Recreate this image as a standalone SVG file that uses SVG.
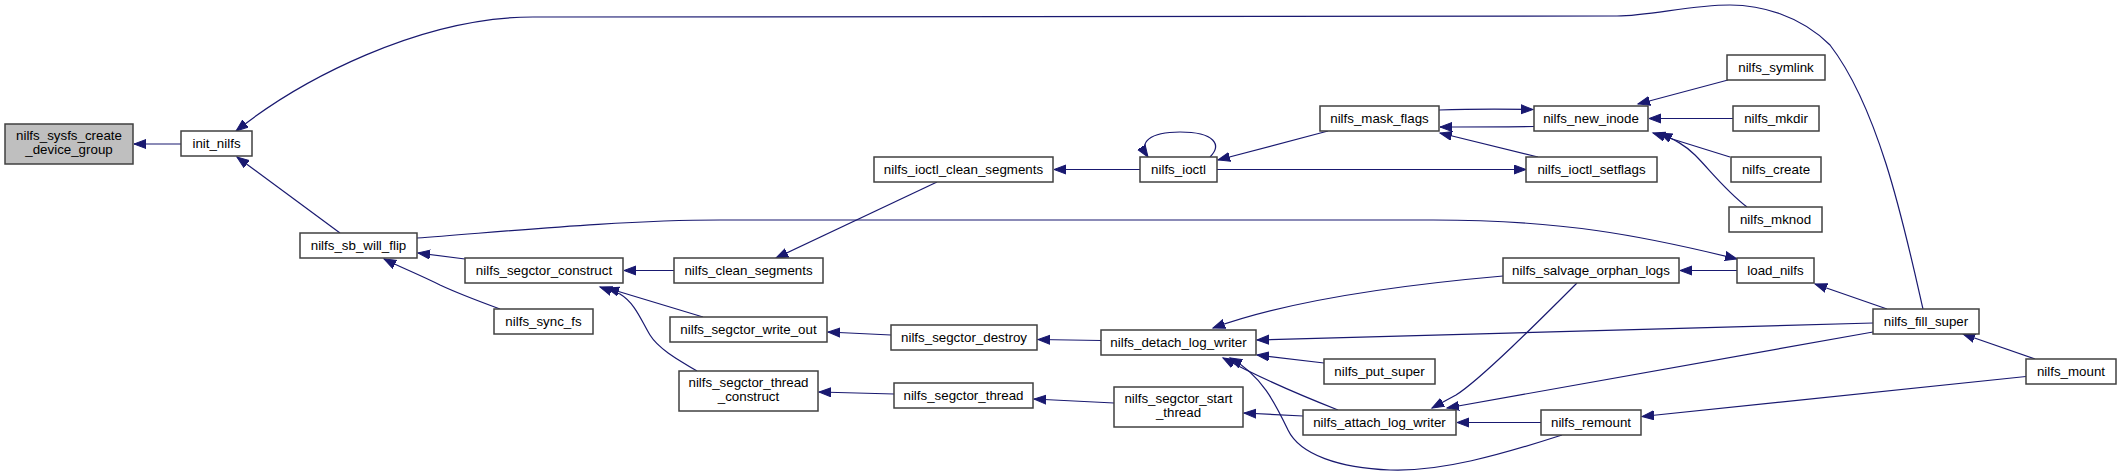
<svg xmlns="http://www.w3.org/2000/svg" width="2121" height="476" viewBox="0 0 2121 476">
<style>
.n rect{fill:#ffffff;stroke:#404040;stroke-width:1.5}
.n.root rect{fill:#bfbfbf}
.n text{font-family:"Liberation Sans",Arial,sans-serif;font-size:13.33px;fill:#000;text-anchor:middle}
.e path{fill:none;stroke:#191970;stroke-width:1.2;marker-end:url(#a)}
</style>
<defs>
<marker id="a" markerWidth="14" markerHeight="12" refX="12" refY="5" orient="auto" markerUnits="userSpaceOnUse">
<path d="M0,0.5 L12,5 L0,9.5 z" fill="#191970" stroke="#191970" stroke-width="1"/>
</marker>
</defs>
<rect width="2121" height="476" fill="#ffffff"/>
<g id="edges" class="e">
<path d="M181,144 L134,144"/>
<path d="M1923,309 C1905,230 1880,110 1830,45 C1800,15 1760,5 1730,5 C1690,5 1650,16 1617,16 L533,17 C420,17 300,80 236,131"/>
<path d="M340,233 L237,157"/>
<path d="M465,259 L418,253"/>
<path d="M500,309 C470,298 455,292 440,285 C420,275 400,267 384,259"/>
<path d="M417,238 C500,232 620,220 720,220 L1433,220 C1560,220 1640,235 1737,259"/>
<path d="M1140,169.5 L1054,169.5"/>
<path d="M1210,157 C1222,145 1215,132 1180,132 C1150,132 1138,142 1148,157"/>
<path d="M1328,131 L1218,160"/>
<path d="M1217,169.5 L1526,169.5"/>
<path d="M937,182 L776,258"/>
<path d="M674,270.5 L624,270.5"/>
<path d="M703,317 L607,288"/>
<path d="M697,371 C675,358 658,348 650,335 C641,320 635,303 620,294 L600,287"/>
<path d="M891,335 L828,332"/>
<path d="M894,394 L819,392"/>
<path d="M1101,340.5 L1038,339.5"/>
<path d="M1114,403 L1034,399"/>
<path d="M1303,416 L1244,413"/>
<path d="M1503,276 C1400,285 1290,300 1213,328"/>
<path d="M1873,323 L1257,340"/>
<path d="M1324,363 L1257,355"/>
<path d="M1338,410 C1300,395 1260,378 1223,358"/>
<path d="M1562,435 C1500,455 1440,472 1390,470 C1340,468 1300,455 1288,430 C1276,405 1262,375 1230,358"/>
<path d="M1577,283 C1540,320 1480,380 1456,395 L1432,408"/>
<path d="M1873,332 L1447,408"/>
<path d="M1541,422.5 L1457,422.5"/>
<path d="M2026,376.5 L1642,416.5"/>
<path d="M1737,270.5 L1680,270.5"/>
<path d="M1887,309 L1815,284"/>
<path d="M2035,359 L1963,334"/>
<path d="M1728,80 L1638,104"/>
<path d="M1733,118.5 L1649,118.5"/>
<path d="M1730,157 L1653,133"/>
<path d="M1747,207 C1725,190 1710,170 1695,155 C1685,145 1675,140 1660,133"/>
<path d="M1534,126.5 C1500,127 1470,127 1440,127"/>
<path d="M1439,110 C1470,109 1500,109 1533,109.5"/>
<path d="M1538,157 L1440,133"/>
</g>
<g id="n_sysfs" class="n root"><rect x="5" y="124" width="128" height="40"/><text x="69" y="139.5">nilfs_sysfs_create</text><text x="69" y="154">_device_group</text></g>
<g id="n_init" class="n"><rect x="181" y="131" width="71" height="25"/><text x="216.5" y="147.5">init_nilfs</text></g>
<g id="n_sbflip" class="n"><rect x="300" y="233" width="117" height="25"/><text x="358.5" y="249.5">nilfs_sb_will_flip</text></g>
<g id="n_construct" class="n"><rect x="465" y="258" width="158" height="25"/><text x="544" y="274.5">nilfs_segctor_construct</text></g>
<g id="n_syncfs" class="n"><rect x="494" y="309" width="99" height="25"/><text x="543.5" y="325.5">nilfs_sync_fs</text></g>
<g id="n_clean" class="n"><rect x="674" y="258" width="149" height="25"/><text x="748.5" y="274.5">nilfs_clean_segments</text></g>
<g id="n_writeout" class="n"><rect x="670" y="317" width="157" height="25"/><text x="748.5" y="333.5">nilfs_segctor_write_out</text></g>
<g id="n_threadconstruct" class="n"><rect x="679" y="371" width="139" height="40"/><text x="748.5" y="386.5">nilfs_segctor_thread</text><text x="748.5" y="401">_construct</text></g>
<g id="n_ioctlclean" class="n"><rect x="874" y="157" width="179" height="25"/><text x="963.5" y="173.5">nilfs_ioctl_clean_segments</text></g>
<g id="n_destroy" class="n"><rect x="891" y="325" width="146" height="25"/><text x="964" y="341.5">nilfs_segctor_destroy</text></g>
<g id="n_thread" class="n"><rect x="894" y="383" width="139" height="25"/><text x="963.5" y="399.5">nilfs_segctor_thread</text></g>
<g id="n_ioctl" class="n"><rect x="1140" y="157" width="77" height="25"/><text x="1178.5" y="173.5">nilfs_ioctl</text></g>
<g id="n_detach" class="n"><rect x="1101" y="330" width="155" height="25"/><text x="1178.5" y="346.5">nilfs_detach_log_writer</text></g>
<g id="n_startthread" class="n"><rect x="1114" y="387" width="129" height="40"/><text x="1178.5" y="402.5">nilfs_segctor_start</text><text x="1178.5" y="417">_thread</text></g>
<g id="n_maskflags" class="n"><rect x="1320" y="106" width="119" height="25"/><text x="1379.5" y="122.5">nilfs_mask_flags</text></g>
<g id="n_putsuper" class="n"><rect x="1324" y="359" width="111" height="25"/><text x="1379.5" y="375.5">nilfs_put_super</text></g>
<g id="n_attach" class="n"><rect x="1303" y="410" width="153" height="25"/><text x="1379.5" y="426.5">nilfs_attach_log_writer</text></g>
<g id="n_newinode" class="n"><rect x="1534" y="106" width="114" height="25"/><text x="1591" y="122.5">nilfs_new_inode</text></g>
<g id="n_setflags" class="n"><rect x="1526" y="157" width="131" height="25"/><text x="1591.5" y="173.5">nilfs_ioctl_setflags</text></g>
<g id="n_salvage" class="n"><rect x="1503" y="258" width="176" height="25"/><text x="1591" y="274.5">nilfs_salvage_orphan_logs</text></g>
<g id="n_remount" class="n"><rect x="1541" y="410" width="100" height="25"/><text x="1591" y="426.5">nilfs_remount</text></g>
<g id="n_symlink" class="n"><rect x="1727" y="55" width="98" height="25"/><text x="1776" y="71.5">nilfs_symlink</text></g>
<g id="n_mkdir" class="n"><rect x="1733" y="106" width="86" height="25"/><text x="1776" y="122.5">nilfs_mkdir</text></g>
<g id="n_create" class="n"><rect x="1731" y="157" width="90" height="25"/><text x="1776" y="173.5">nilfs_create</text></g>
<g id="n_mknod" class="n"><rect x="1729" y="207" width="93" height="25"/><text x="1775.5" y="223.5">nilfs_mknod</text></g>
<g id="n_loadnilfs" class="n"><rect x="1737" y="258" width="77" height="25"/><text x="1775.5" y="274.5">load_nilfs</text></g>
<g id="n_fillsuper" class="n"><rect x="1873" y="309" width="106" height="25"/><text x="1926" y="325.5">nilfs_fill_super</text></g>
<g id="n_mount" class="n"><rect x="2026" y="359" width="90" height="25"/><text x="2071" y="375.5">nilfs_mount</text></g>
</svg>
